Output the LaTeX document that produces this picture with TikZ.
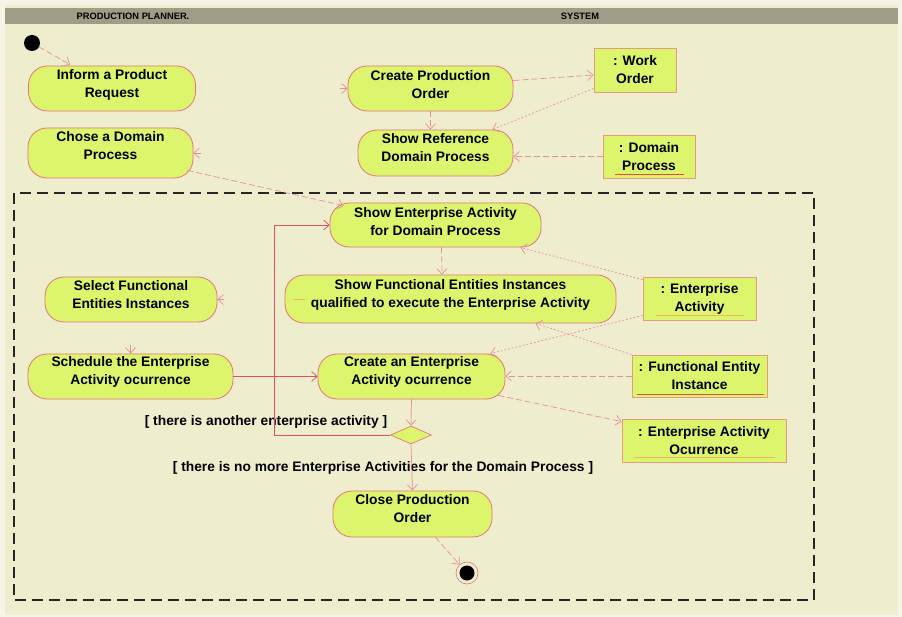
\documentclass[tikz,border=0pt]{standalone}
\usepackage{fontspec}
\setmainfont{Liberation Sans}
\usetikzlibrary{shapes.geometric,arrows.meta,calc}

\definecolor{pagebg}{HTML}{F5F4E6}
\definecolor{lanebg}{HTML}{EEEDCE}
\definecolor{headbg}{HTML}{9F9C87}
\definecolor{actfill}{HTML}{DCF56C}
\definecolor{actline}{HTML}{E2777A}
\definecolor{objline}{HTML}{E89A80}
\definecolor{flow}{HTML}{E88C9C}
\definecolor{loopred}{HTML}{DD5068}
\definecolor{ulred}{HTML}{E8484A}
\definecolor{ulorange}{HTML}{EBB868}

\tikzset{
  txt/.style={font=\fontsize{13.8}{18}\selectfont\bfseries},
  % action state: the caption sits a little above the shape's centre
  act/.style={draw=actline, line width=0.8pt, fill=actfill,
    rounded corners=19pt, inner sep=0pt},
  caption/.style={label={[txt, align=center, inner sep=0pt, yshift=#1]center:{\actcap}}},
  obj/.style={txt, draw=objline, line width=0.9pt, fill=actfill,
    align=center, inner sep=0pt},
  flowarrow/.style={draw=flow, line width=0.7pt,
    -{Straight Barb[length=5.5pt,width=10pt]}},
  dashflow/.style={flowarrow, dash pattern=on 6pt off 3pt},
  dotflow/.style={flowarrow, dash pattern=on 1.8pt off 2pt},
  solidflow/.style={flowarrow},
  guard/.style={txt, inner sep=0pt},
  lanehead/.style={font=\fontsize{9.3}{10}\selectfont\bfseries, inner sep=0pt},
  frame/.style={draw=black!85, line width=2.2pt, dash pattern=on 11pt off 6pt},
}

\begin{document}
\begin{tikzpicture}[x=1pt,y=-1pt]
\useasboundingbox (0,0) rectangle (902,617);

% swimlane background and header
\fill[pagebg] (0,0) rectangle (902,617);
\fill[lanebg] (5,5) rectangle (898,615);
\fill[headbg] (5,8) rectangle (898,24);
\node[lanehead] (hplanner) at (133,16.5) {PRODUCTION PLANNER.};
\node[lanehead] (hsystem) at (580,16.5) {SYSTEM};

% dashed region
\draw[frame] (14,193) rectangle (814,600);

% initial and final states
\node[circle, fill=black, minimum size=16pt, inner sep=0pt] (start) at (32,43) {};
\node[circle, draw=actline, line width=0.6pt, fill=lanebg, minimum size=22pt, inner sep=0pt] (end) at (467,573) {};
\node[circle, fill=black, minimum size=15pt, inner sep=0pt] (endcore) at (467,573) {};

% actions
\def\actcap{Inform a Product\\Request}
\node[act, minimum width=167pt, minimum height=45pt, caption=4pt] (inform) at (112,88.5) {};
\def\actcap{Chose a Domain\\Process}
\node[act, minimum width=165pt, minimum height=50pt, caption=7pt] (chose) at (110.5,153) {};
\def\actcap{Create Production\\Order}
\node[act, minimum width=165pt, minimum height=45pt, caption=4pt] (create) at (430.5,88.5) {};
\def\actcap{Show Reference\\Domain Process}
\node[act, minimum width=155pt, minimum height=46pt, caption=5pt] (showref) at (435.5,153) {};
\def\actcap{Show Enterprise Activity\\for Domain Process}
\node[act, minimum width=211pt, minimum height=44pt, caption=3.5pt] (showea) at (435.5,225) {};
\def\actcap{Show Functional Entities Instances\\qualified to execute the Enterprise Activity}
\node[act, minimum width=331pt, minimum height=48pt, caption=4pt] (showfe) at (450.5,299) {};
\def\actcap{Select Functional\\Entities Instances}
\node[act, minimum width=172pt, minimum height=45pt, caption=4.5pt] (select) at (131,299.5) {};
\def\actcap{Schedule the Enterprise\\Activity ocurrence}
\node[act, minimum width=205pt, minimum height=45pt, caption=4.5pt] (schedule) at (130.5,376.5) {};
\def\actcap{Create an Enterprise\\Activity ocurrence}
\node[act, minimum width=187pt, minimum height=45pt, caption=4.5pt] (createea) at (411.5,376.5) {};
\def\actcap{Close Production\\Order}
\node[act, minimum width=159pt, minimum height=46pt, caption=5pt] (close) at (412.5,514) {};
\node[diamond, draw=actline, line width=0.7pt, fill=actfill, minimum width=41pt, minimum height=18pt, inner sep=0pt] (dia) at (411,435) {};

% objects
\node[obj, minimum width=82pt, minimum height=44pt] (workorder) at (635,70) {: Work\\Order};
\node[obj, minimum width=92pt, minimum height=43pt] (domproc) at (649,156.5) {: Domain\\Process};
\node[obj, minimum width=113pt, minimum height=43pt] (entact) at (699.5,298.5) {: Enterprise\\Activity};
\node[obj, minimum width=135pt, minimum height=42pt] (fei) at (699.5,376) {: Functional Entity\\Instance};
\node[obj, minimum width=164pt, minimum height=43pt] (eao) at (704,440.5) {: Enterprise Activity\\Ocurrence};

% object name underlines
\draw[ulred, line width=0.9pt] ($(domproc.south west)+(12,-4)$) -- ($(domproc.south east)+(-11,-4)$);
\draw[ulorange, line width=0.8pt] ($(entact.south west)+(13,-5)$) -- ($(entact.south east)+(-12,-5)$);
\draw[ulred, line width=0.9pt] ($(fei.south west)+(5,-3.5)$) -- ($(fei.south east)+(-3,-3.5)$);
\draw[ulorange, line width=0.8pt] ($(eao.south west)+(12,-5)$) -- ($(eao.south east)+(-11,-5)$);

% guards
\node[guard] (gmore) at (266,422) {[ there is another enterprise activity ]};
\node[guard] (gnomore) at (383,468) {[ there is no more Enterprise Activities for the Domain Process ]};

% control and object flows
\draw[dashflow] (start) -- ($(inform.north west)+(42,-1)$);
\draw[flowarrow] ($(create.west)+(-8,0)$) -- (create.west);
\draw[dashflow] ($(create.east)+(0,-8)$) -- ($(workorder.west)+(0,5)$);
\draw[dotflow] ($(workorder.south west)+(0,-4)$) -- ($(showref.north)+(57,0)$);
\draw[dashflow] (create.south) -- (create.south |- showref.north);
\draw[dashflow] (domproc.west) -- (domproc.west -| showref.east);
\draw[flowarrow] ($(chose.east)+(8,0)$) -- (chose.east);
\draw[dashflow] ($(chose.south east)+(-6,-8)$) -- ($(showea.north west)+(14,3)$);
\draw[dashflow] ($(showea.south)+(6,0)$) -- ($(showfe.north)+(-8.5,0)$);
\draw[flowarrow] ($(select.east)+(7,0)$) -- (select.east);
\draw[flowarrow] ($(schedule.north)+(0,-9)$) -- (schedule.north);
\draw[draw=ulorange, line width=0.8pt] ($(showfe.west)+(8,0)$) -- ($(showfe.west)+(20,0)$);
\draw[solidflow, draw=loopred] (schedule.east) -- (createea.west);
\draw[dotflow] ($(entact.north west)+(0,3)$) -- ($(showea.south east)+(-21,0)$);
\draw[dotflow] ($(entact.south west)+(0,-5)$) -- ($(createea.north east)+(-15,0)$);
\draw[dotflow] (fei.north west) -- ($(showfe.south)+(85,0)$);
\draw[dashflow] (fei.west) -- (fei.west -| createea.east);
\draw[dashflow] ($(createea.south east)+(-7,-4)$) -- ($(eao.north west)+(0,3)$);
\draw[solidflow] (createea.south) -- (dia.north);
\draw[solidflow, draw=loopred] (dia.west) -- ++(-116,0) |- (showea.west);
\draw[solidflow] (dia.south) -- (close.north);
\draw[dashflow] ($(close.south)+(23,0)$) -- (end);
\end{tikzpicture}
\end{document}
